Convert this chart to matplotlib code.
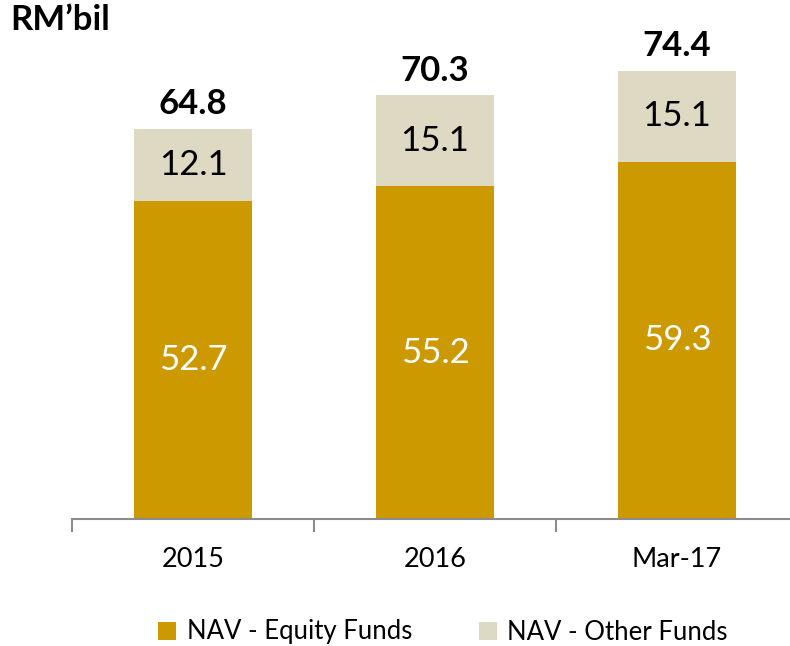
import matplotlib.pyplot as plt
import numpy as np

plt.rcParams['font.family'] = ['Lato', 'DejaVu Sans']

# data
categories = ['2015', '2016', 'Mar-17']
equity = [52.7, 55.2, 59.3]
other = [12.1, 15.1, 15.1]
totals = [64.8, 70.3, 74.4]

gold = '#CC9900'
beige = '#DDD9C3'
axis_grey = '#8C8C8C'

fig = plt.figure(figsize=(7.9, 6.46), dpi=100)
# axes spans x 72..798 px, bottom at y=519 px
ax = fig.add_axes([72 / 790, 127 / 646, 726 / 790, 482 / 646])

x = np.arange(len(categories))
w = 0.49
b1 = ax.bar(x, equity, w, color=gold, label='NAV - Equity Funds')
b2 = ax.bar(x, other, w, bottom=equity, color=beige, label='NAV - Other Funds')

for i in range(len(categories)):
    ax.text(x[i], equity[i] / 2, f'{equity[i]:.1f}', ha='center', va='center',
            color='white', fontsize=25)
    ax.text(x[i], equity[i] + other[i] / 2, f'{other[i]:.1f}', ha='center',
            va='center', color='black', fontsize=25)
    ax.annotate(f'{totals[i]:.1f}', (x[i], equity[i] + other[i]),
                xytext=(0, 6), textcoords='offset points', ha='center',
                va='bottom', fontsize=25, fontweight='bold')

ax.set_xlim(-0.5, 2.5)
ax.set_ylim(0, 80)
ax.set_yticks([])
for s in ['top', 'right', 'left']:
    ax.spines[s].set_visible(False)
ax.spines['bottom'].set_color(axis_grey)
ax.spines['bottom'].set_linewidth(1.5)

ax.set_xticks(x)
ax.set_xticklabels(categories, fontsize=19.5)
ax.tick_params(axis='x', which='major', length=0, pad=20)
ax.set_xticks([-0.5, 0.5, 1.5, 2.5], minor=True)
ax.tick_params(axis='x', which='minor', length=9, width=1.5, color=axis_grey)

fig.text(10 / 790, 1 - 20 / 646, 'RM\u2019bil', fontsize=25, fontweight='bold',
         ha='left', va='center')

fig.legend(handles=[b1, b2], loc='center', bbox_to_anchor=(443 / 790, 1 - 632 / 646),
           ncol=2, frameon=False, fontsize=18.5, handlelength=0.7, handleheight=0.7,
           handletextpad=0.4, columnspacing=2.6)

fig.savefig('out.png', dpi=100)
